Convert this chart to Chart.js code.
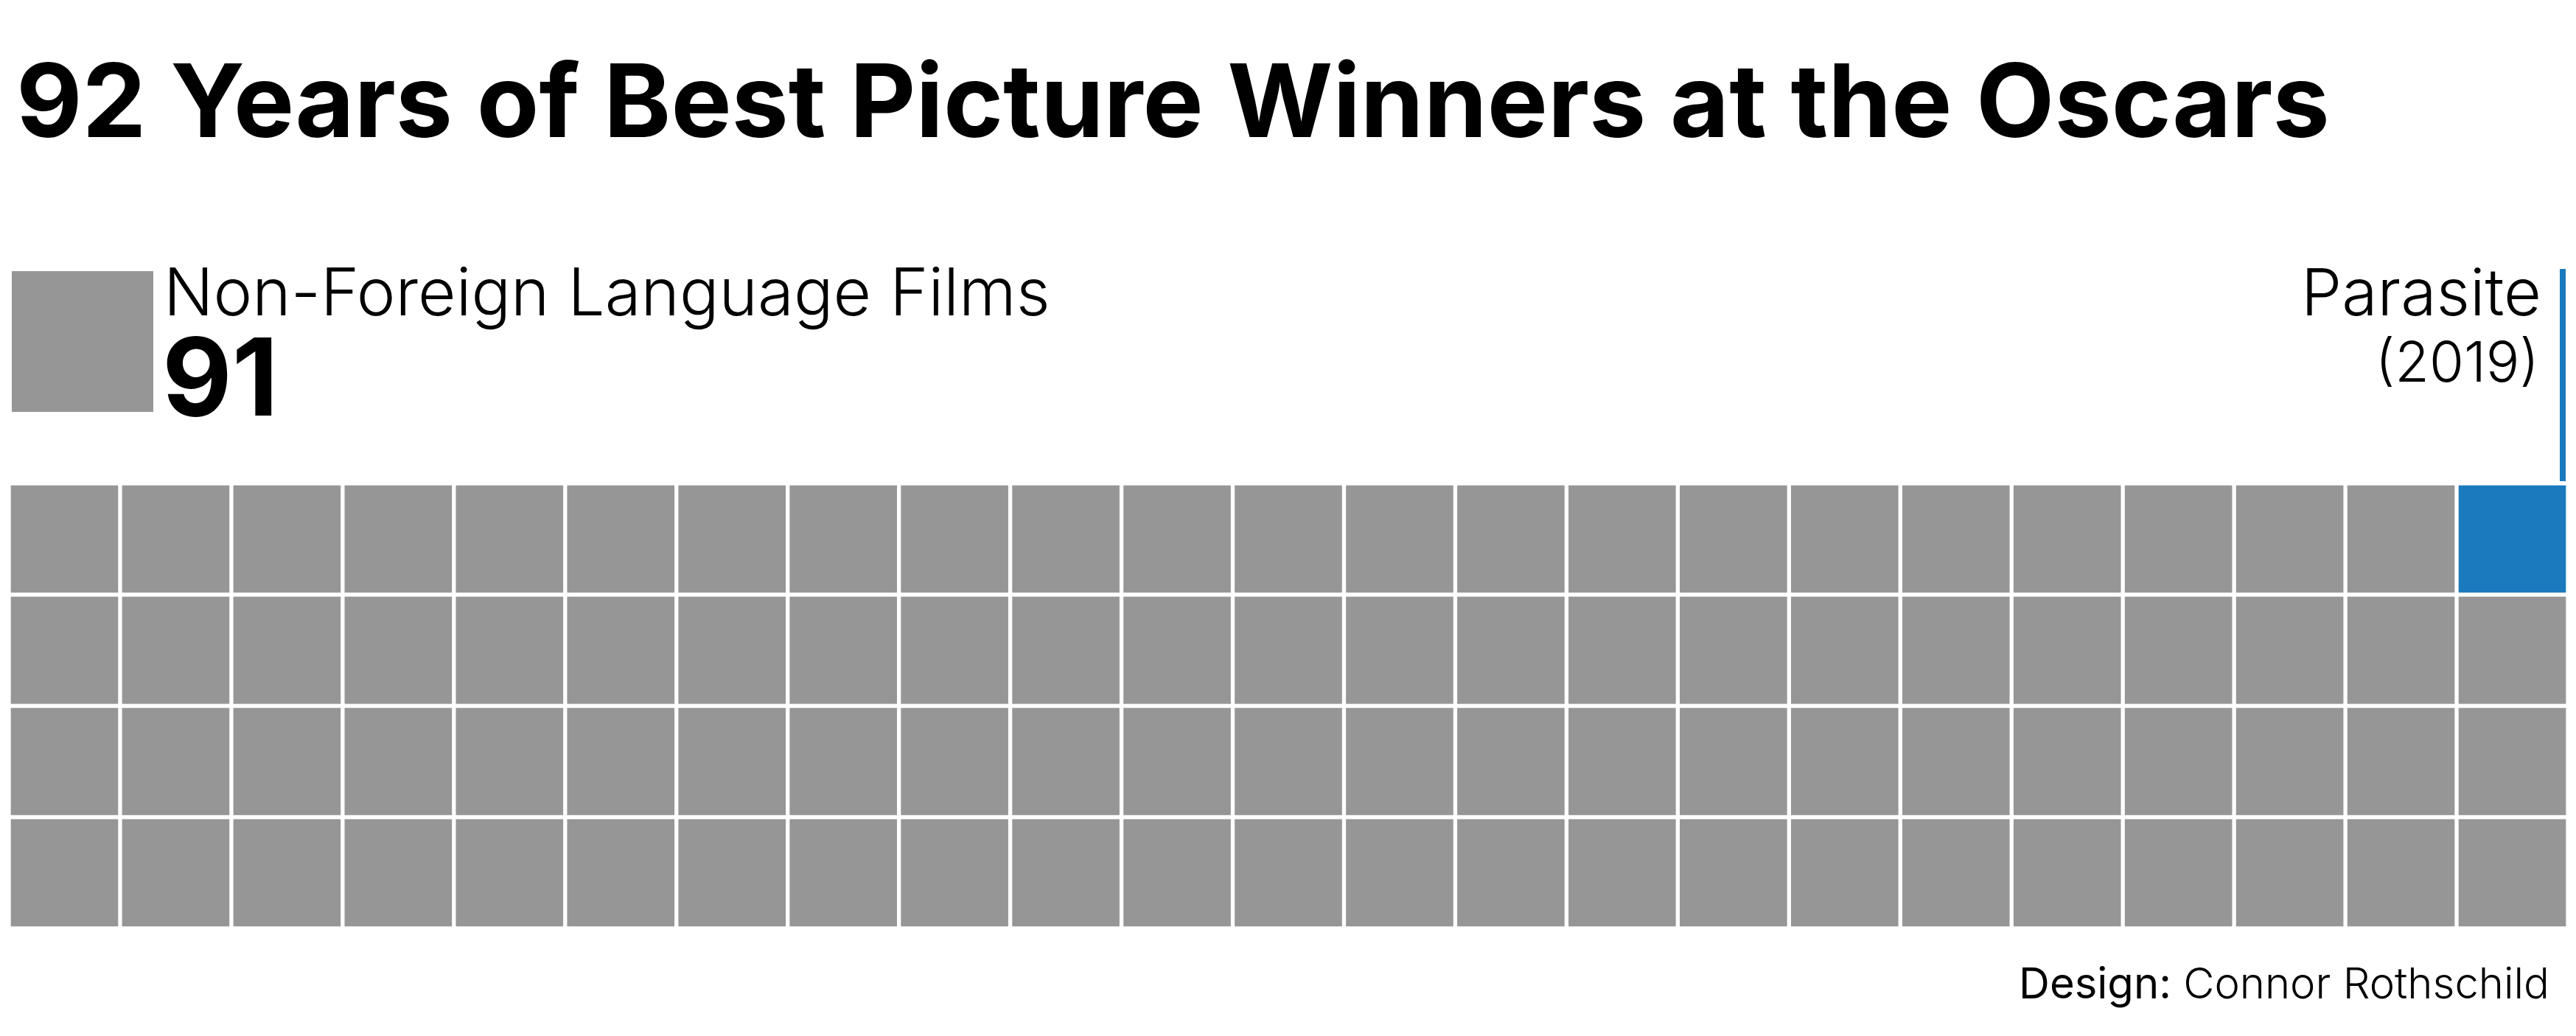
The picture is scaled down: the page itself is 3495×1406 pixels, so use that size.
<!DOCTYPE html>
<html>
<head>
<meta charset="utf-8">
<script src="https://cdn.jsdelivr.net/npm/chart.js@4.4.1/dist/chart.umd.min.js"></script>
<style>
  html, body { margin: 0; padding: 0; background: #ffffff; }
  #wrap { position: relative; width: 3495px; height: 1406px; }
  canvas { display: block; }
</style>
</head>
<body>
<div id="wrap"><canvas id="c" width="3495" height="1406"></canvas></div>
<script>
// ---- Data ----
const chartTitle = "92 Years of Best Picture Winners at the Oscars";
const categories = ["Non-Foreign Language Films", "Foreign Language Films"];
const counts = [91, 1];
const categoryColors = ["#969696", "#1b79be"];
const highlightName = "Parasite";
const highlightYear = "(2019)";
const nColumns = 23;
const nRows = 4;
const creditLabel = "Design:";
const creditName = "Connor Rothschild";

// ---- Build waffle (columns left->right, each column bottom->top) ----
const columnLabels = Array.from({length: nColumns}, (_, i) => String(i + 1));
function categoryOfCell(index) {
  let acc = 0;
  for (let k = 0; k < counts.length; k++) {
    acc += counts[k];
    if (index < acc) return k;
  }
  return counts.length - 1;
}
const datasets = [];
for (let r = 0; r < nRows; r++) {
  datasets.push({
    label: "row" + r,
    data: columnLabels.map(() => 1),
    backgroundColor: (ctx) => categoryColors[categoryOfCell(ctx.dataIndex * nRows + r)],
    borderColor: "#ffffff",
    borderWidth: 3,
    borderSkipped: false,
    categoryPercentage: 1,
    barPercentage: 1,
    stack: "s"
  });
}

const FONT = "Inter, 'Noto Sans', sans-serif";

const decor = {
  id: "decor",
  afterDraw(chart) {
    const c = chart.ctx;
    c.save();
    // Title
    c.fillStyle = "#000000";
    c.textBaseline = "alphabetic";
    c.textAlign = "left";
    c.font = "700 138px " + FONT;
    c.fillText(chartTitle, 22, 186);

    // Legend square for main category
    c.fillStyle = categoryColors[0];
    c.fillRect(16, 368, 192, 191);
    c.fillStyle = "#000000";
    c.font = "300 89px " + FONT;
    c.fillText(categories[0], 222, 428);
    c.font = "700 146px " + FONT;
    c.fillText(String(counts[0]), 220, 564);

    // Highlight annotation: locate the highlighted cell via the chart's elements
    const hiIndex = counts[0]; // first cell of second category
    const col = Math.floor(hiIndex / nRows);
    const row = hiIndex % nRows;
    const el = chart.getDatasetMeta(row).data[col];
    const right = el.x + el.width / 2 - 3;
    const top = el.y - 3;
    c.fillStyle = categoryColors[1];
    c.fillRect(right - 8, 365, 8, top - 365);
    c.fillStyle = "#000000";
    c.textAlign = "right";
    c.font = "300 88px " + FONT;
    c.fillText(highlightName, right - 33, 428);
    c.font = "300 76px " + FONT;
    c.fillText(highlightYear, right - 36, 518);

    // Credit
    c.font = "300 58px " + FONT;
    c.textAlign = "right";
    const rx = 3459;
    c.fillText(creditName, rx, 1355);
    const w = c.measureText(" " + creditName).width;
    c.font = "400 58px " + FONT;
    c.fillText(creditLabel, rx - w, 1355);
    c.restore();
  }
};

new Chart(document.getElementById("c"), {
  type: "bar",
  data: { labels: columnLabels, datasets },
  options: {
    responsive: false,
    animation: false,
    devicePixelRatio: 1,
    layout: { padding: { left: 12, right: 11, top: 656, bottom: 146 } },
    plugins: { legend: { display: false }, tooltip: { enabled: false }, title: { display: false } },
    scales: {
      x: { display: false, stacked: true, offset: true, grid: { display: false } },
      y: { display: false, stacked: true, min: 0, max: nRows, grid: { display: false } }
    }
  },
  plugins: [decor]
});
</script>
</body>
</html>
